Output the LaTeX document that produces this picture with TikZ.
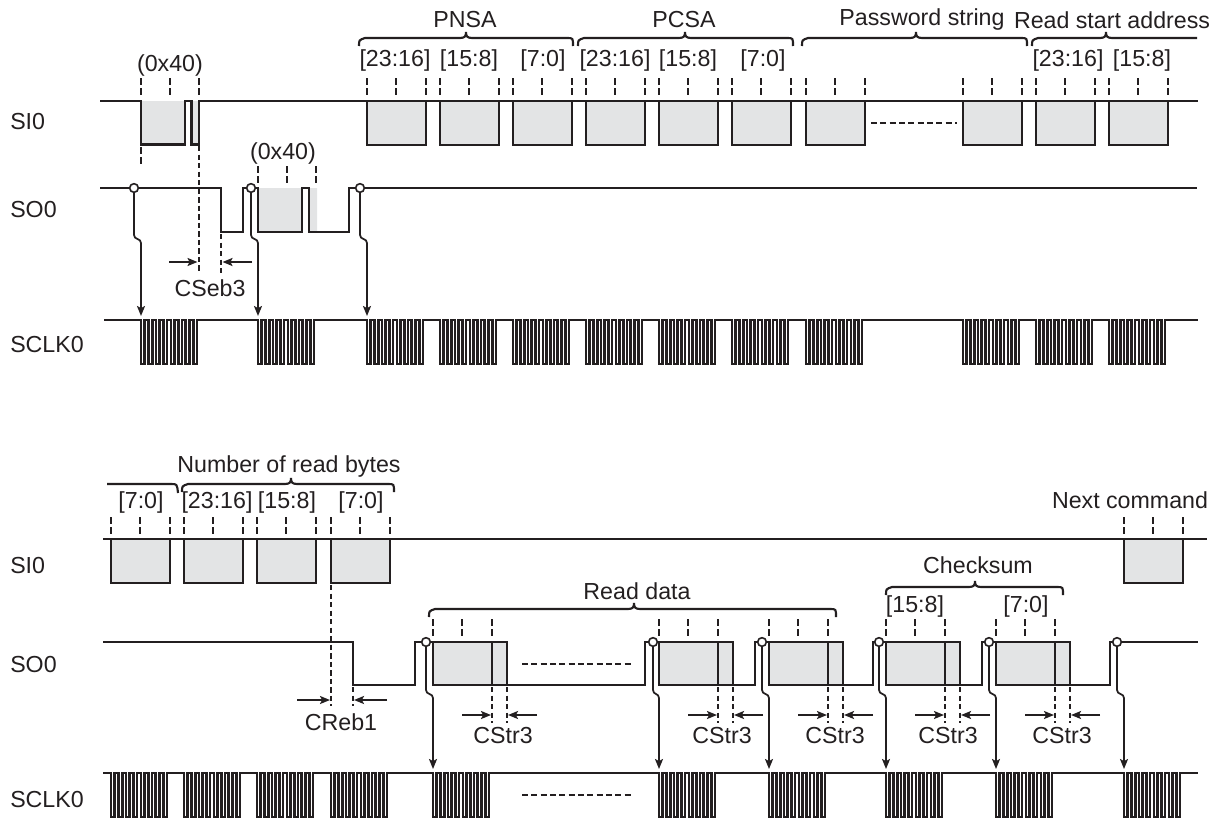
\documentclass[tikz,border=0pt]{standalone}
\usepackage{fontspec}
\setmainfont{Liberation Sans}
\usepackage{xcolor}
\usepackage{tikz}
\usetikzlibrary{arrows.meta,positioning,calc}
\definecolor{ink}{HTML}{231F20}
\definecolor{bytefill}{HTML}{E3E4E5}

% curly brace over a group of bytes: left, tip, right, height
\newcommand{\bracket}[4]{\draw[brc] (#1,#4+8) .. controls (#1,#4+2) .. (#1+6,#4) -- (#2-6,#4)
  .. controls (#2-1,#4) and (#2,#4-2) .. (#2,#4-6) .. controls (#2,#4-2) and (#2+1,#4) .. (#2+6,#4)
  -- (#3-6,#4) .. controls (#3,#4) .. (#3,#4+8);}
% eight clock pulses, used inside a path
\newcommand{\burst}[2]{\foreach \k in {0,...,7}{ -- ({#1+\k*7.47},#2) -- ({#1+\k*7.47},#2+44)
  -- ({#1+\k*7.47+3.73},#2+44) -- ({#1+\k*7.47+3.73},#2)}}

\begin{document}
\begin{tikzpicture}[x=0.75pt,y=-0.75pt,>=Stealth,
  sig/.style={line width=2pt,ink,line join=miter},
  brc/.style={line width=1.6pt,ink},
  tck/.style={line width=2pt,ink,dash pattern=on 5.2pt off 2.4pt},
  gde/.style={line width=2pt,ink,dash pattern=on 4pt off 2.4pt},
  dots/.style={line width=2pt,ink,dash pattern=on 4.6pt off 2.4pt},
  flow/.style={-{Stealth[length=7.5pt,width=6pt,inset=1.6pt]},line width=1.3pt,ink},
  dim/.style={-{Stealth[length=7.5pt,width=6pt,inset=1.6pt]},line width=1.6pt,ink},
  dot/.style={circle,draw=ink,fill=white,line width=1.2pt,minimum size=6.5pt,inner sep=0pt},
  lbl/.style={font=\fontsize{17.4}{20}\selectfont,text=ink,inner sep=0pt}]
  \useasboundingbox (0,0) rectangle (1219,821);

  % upper part: signal names
  \node[lbl,anchor=west] (si) at (10,122) {SI0};
  \node[lbl,anchor=west] (so) at (10,210) {SO0};
  \node[lbl,anchor=west] (sclk) at (10,345) {SCLK0};

  % SI0
  \fill[bytefill] (141,101) rectangle (185,144.5) (191.5,101) rectangle (199,144.5);
  \foreach \x in {367,440,513,586,659,732,806,963,1036,1109}{
    \filldraw[sig,fill=bytefill] (\x,101) -- (\x,145) -- (\x+59,145) -- (\x+59,101);
    \foreach \d in {0,29,59} \draw[tck] (\x+\d,78) -- (\x+\d,96);
  }
  \draw[sig] (100,101) -- (141,101) -- (141,144.5) -- (185,144.5) -- (185,101) -- (191.5,101)
    -- (191.5,144.5) -- (199,144.5) -- (199,101) -- (1198,101);
  \foreach \x in {141,170,199} \draw[tck] (\x,78) -- (\x,96);
  \draw[tck] (141,147) -- (141,165);
  \draw[gde] (199,146) -- (199,273);
  \draw[dots] (871,123) -- (957,123);

  % SO0
  \fill[bytefill] (258,188) rectangle (302,232) (309,188) rectangle (317,232);
  \draw[sig] (100,188) -- (221,188) -- (221,232) -- (243,232) -- (243,188) -- (258,188) -- (258,232)
    -- (302,232) -- (302,188) -- (309,188) -- (309,232) -- (349,232) -- (349,188) -- (1197,188);
  \foreach \x in {258,287,316} \draw[tck] (\x,166) -- (\x,183);
  \draw[gde] (221,234) -- (221,273);
  \coordinate (in1) at (197.5,262);
  \coordinate (out1) at (169,262);
  \coordinate (in2) at (222.5,262);
  \coordinate (out2) at (252,262);
  \draw[dim] (out1) -- (in1);
  \draw[dim] (out2) -- (in2);
  \node[lbl] (cseb) at (210,288) {CSeb3};

  % SCLK0
  \draw[sig] (104,320) \burst{141}{320} -- (258,320) \burst{258}{320} -- (367,320) \burst{367}{320}
    -- (440,320) \burst{440}{320} -- (513,320) \burst{513}{320} -- (586,320) \burst{586}{320}
    -- (659,320) \burst{659}{320} -- (732,320) \burst{732}{320} -- (806,320) \burst{806}{320}
    -- (963,320) \burst{963}{320} -- (1036,320) \burst{1036}{320} -- (1109,320) \burst{1109}{320}
    -- (1198,320);

  % start marks on SO0, each with its arrow to the clock
  \foreach \n/\x in {ua/134,ub/251,uc/360}{
    \node[dot] (\n) at (\x,188) {};
    \coordinate (\n e) at (\x+7,316);
    \draw[flow] (\n) -- (\x,235) .. controls (\x,240) and (\x+7,238) .. (\x+7,243) -- (\n e);
  }

  % upper part: labels
  \node[lbl] (hexa) at (170,65) {(0x40)};
  \node[lbl] (hexb) at (283,153) {(0x40)};
  \foreach \x/\lab in {395/{[23:16]},469/{[15:8]},543/{[7:0]},615/{[23:16]},688/{[15:8]},763/{[7:0]},1068/{[23:16]},1142/{[15:8]}}
    \node[lbl] (bit\x) at (\x,61) {\lab};
  \bracket{359}{466}{573}{38}
  \bracket{578}{685}{793}{38}
  \bracket{802}{916}{1027}{38}
  \draw[brc] (1032,46) .. controls (1032,40) .. (1038,38) -- (1100,38) .. controls (1105,38) and (1106,36) .. (1106,32)
    .. controls (1106,36) and (1107,38) .. (1112,38) -- (1197,38);
  \node[lbl] (pnsa) at (465,20) {PNSA};
  \node[lbl] (pcsa) at (684,20) {PCSA};
  \node[lbl] (pwd) at (922,20) {Password string};
  \node[lbl] (rsa) at (1112,20) {Read start address};

  % lower part: signal names
  \node[lbl,anchor=west] (sib) at (10,566) {SI0};
  \node[lbl,anchor=west] (sob) at (10,665) {SO0};
  \node[lbl,anchor=west] (sclkb) at (10,799) {SCLK0};

  % SI0
  \foreach \x in {111,184,257,331,1124}{
    \filldraw[sig,fill=bytefill] (\x,539) -- (\x,583) -- (\x+59,583) -- (\x+59,539);
    \foreach \d in {0,29,59} \draw[tck] (\x+\d,517) -- (\x+\d,534);
  }
  \draw[sig] (103,539) -- (1207,539);
  \draw[gde] (331,585) -- (331,706);
  \draw[gde] (353,687) -- (353,706);

  % SO0
  \foreach \x/\w in {433/74,659/74,769/74,886/74,996/74}{
    \fill[bytefill] (\x,642) rectangle (\x+\w,685);
    \draw[sig] (\x,642) -- (\x+\w,642) -- (\x+\w,685);
    \draw[sig] (\x+59,642) -- (\x+59,685);
    \foreach \d in {0,29,59} \draw[tck] (\x+\d,619) -- (\x+\d,636);
    \draw[gde] (\x+59,687) -- (\x+59,723);
    \draw[gde] (\x+\w,687) -- (\x+\w,723);
    \coordinate (ia\x) at (\x+58,715);
    \coordinate (oa\x) at (\x+29,715);
    \coordinate (ib\x) at (\x+\w+1,715);
    \coordinate (ob\x) at (\x+\w+30,715);
    \draw[dim] (oa\x) -- (ia\x);
    \draw[dim] (ob\x) -- (ib\x);
  }
  \draw[sig] (103,642) -- (353,642) -- (353,685) -- (415,685) -- (415,642) -- (433,642) -- (433,685)
    -- (645,685) -- (645,642) -- (659,642) -- (659,685) -- (755,685) -- (755,642) -- (769,642)
    -- (769,685) -- (873,685) -- (873,642) -- (886,642) -- (886,685) -- (982,685) -- (982,642)
    -- (996,642) -- (996,685) -- (1110,685) -- (1110,642) -- (1198,642);
  \draw[dots] (522,664) -- (632,664);
  \coordinate (rin1) at (330,700);
  \coordinate (rout1) at (297,700);
  \coordinate (rin2) at (354,700);
  \coordinate (rout2) at (387,700);
  \draw[dim] (rout1) -- (rin1);
  \draw[dim] (rout2) -- (rin2);
  \node[lbl] (creb) at (341,722) {CReb1};
  \foreach \x in {503,722,835,948,1062}
    \node[lbl] (str\x) at (\x,736) {CStr3};

  % SCLK0
  \draw[sig] (103,773) \burst{111}{773} -- (184,773) \burst{184}{773} -- (257,773) \burst{257}{773}
    -- (331,773) \burst{331}{773} -- (433,773) \burst{433}{773} -- (659,773) \burst{659}{773}
    -- (769,773) \burst{769}{773} -- (886,773) \burst{886}{773} -- (996,773) \burst{996}{773}
    -- (1124,773) \burst{1124}{773} -- (1198,773);
  \draw[dots] (522,795) -- (632,795);

  \foreach \n/\x/\t in {la/426/433,lb/653/659,lc/762/769,ld/879/886,le/989/996,lf/1117/1124}{
    \node[dot] (\n) at (\x,642) {};
    \coordinate (\n e) at (\t,769);
    \draw[flow] (\n) -- (\x,690) .. controls (\x,695) and (\t,693) .. (\t,698) -- (\n e);
  }

  % lower part: labels
  \foreach \x/\lab in {141/{[7:0]},217/{[23:16]},287/{[15:8]},361/{[7:0]}}
    \node[lbl] (byte\x) at (\x,502) {\lab};
  \node[lbl] (cka) at (915,606) {[15:8]};
  \node[lbl] (ckb) at (1026,606) {[7:0]};
  \draw[brc] (107,484) -- (171,484) .. controls (177,484) .. (178,493);
  \bracket{182}{291}{394}{484}
  \bracket{429}{634}{836}{609}
  \bracket{886}{975}{1063}{587}
  \node[lbl] (nrb) at (289,466) {Number of read bytes};
  \node[lbl] (rdd) at (637,591) {Read data};
  \node[lbl] (chk) at (978,565) {Checksum};
  \node[lbl] (nxt) at (1130,500) {Next command};
\end{tikzpicture}
\end{document}
